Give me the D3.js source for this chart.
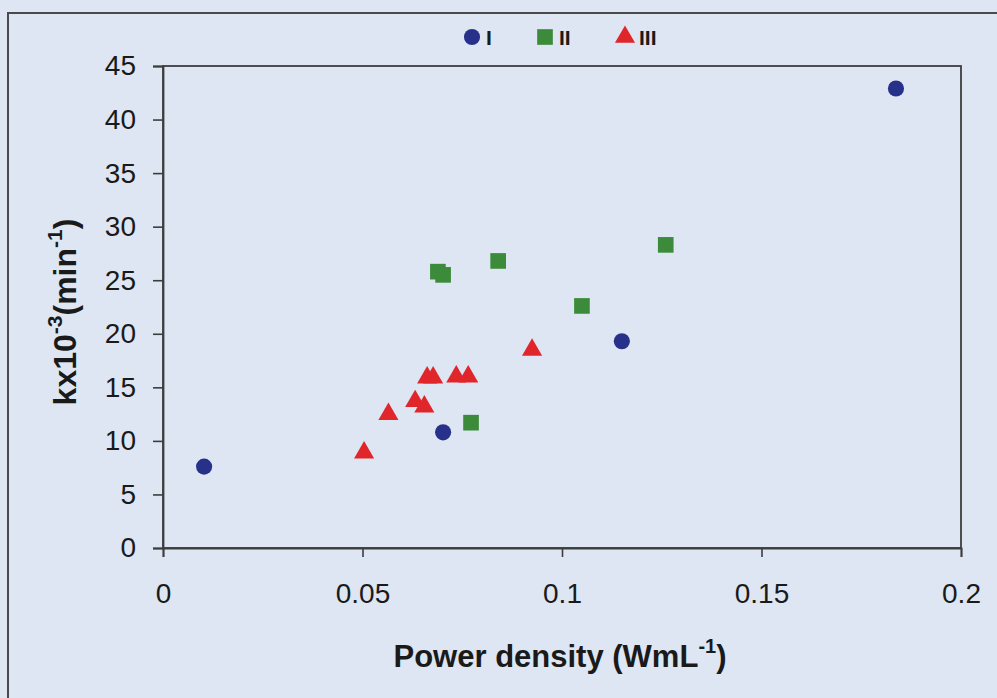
<!DOCTYPE html>
<html>
<head>
<meta charset="utf-8">
<script src="https://cdn.jsdelivr.net/npm/d3@7"></script>
<style>
  html, body { margin: 0; padding: 0; background: #dde6f2; }
  svg text { font-family: Arial, "Liberation Sans", sans-serif; fill: #1a1a1a; }
</style>
</head>
<body>
<div id="chart"></div>
<script>
// series values (x = power density W/mL, y = k x10^-3 min^-1)
const seriesNames = ["I", "II", "III"];
const xI   = [0.0103, 0.0702, 0.115, 0.1837];
const yI   = [7.6, 10.8, 19.3, 42.9];
const xII  = [0.0689, 0.0702, 0.084, 0.105, 0.126, 0.0772];
const yII  = [25.8, 25.5, 26.8, 22.6, 28.3, 11.7];
const xIII = [0.0504, 0.0565, 0.0632, 0.0655, 0.0662, 0.0677, 0.0735, 0.0765, 0.0925];
const yIII = [8.9, 12.5, 13.7, 13.2, 15.9, 15.9, 16.0, 16.0, 18.5];
const xTicks = [0, 0.05, 0.1, 0.15, 0.2];
const yTicks = [0, 5, 10, 15, 20, 25, 30, 35, 40, 45];

const W = 997, H = 698;
const colors = { I: "#28318a", II: "#3b8b3a", III: "#e1262b" };
const shapes = { I: d3.symbolCircle, II: d3.symbolSquare, III: d3.symbolTriangle };
const sizes = { I: 205, II: 245, III: 175 };

const svg = d3.select("#chart").append("svg")
  .attr("width", W)
  .attr("height", H);

svg.append("rect")
  .attr("width", W).attr("height", H)
  .attr("fill", "#dde6f2");

// outer chart frame (runs off the picture at right/bottom)
svg.append("rect")
  .attr("x", 8).attr("y", 13)
  .attr("width", 1200).attr("height", 900)
  .attr("fill", "none")
  .attr("stroke", "#4a4a4a")
  .attr("stroke-width", 2);

const x = d3.scaleLinear().domain([0, 0.2]).range([163, 961]);
const y = d3.scaleLinear().domain([0, 45]).range([548, 66]);

// plot area box
svg.append("rect")
  .attr("x", x(0)).attr("y", y(45))
  .attr("width", x(0.2) - x(0)).attr("height", y(0) - y(45))
  .attr("fill", "none")
  .attr("stroke", "#3d3d3d")
  .attr("stroke-width", 1.8);

const xAxis = svg.append("g")
  .attr("transform", "translate(0," + y(0) + ")")
  .call(d3.axisBottom(x).tickValues(xTicks).tickSize(9).tickPadding(26)
    .tickFormat(d => d3.format("")(d)));

const yAxis = svg.append("g")
  .attr("transform", "translate(" + x(0) + ",0)")
  .call(d3.axisLeft(y).tickValues(yTicks).tickSize(10).tickPadding(17));

[xAxis, yAxis].forEach(g => {
  g.select(".domain").attr("stroke", "#3d3d3d").attr("stroke-width", 1.8);
  g.selectAll(".tick line").attr("stroke", "#3d3d3d").attr("stroke-width", 1.6);
  g.selectAll(".tick text")
    .attr("font-size", 28)
    .attr("font-family", "Arial, 'Liberation Sans', sans-serif")
    .attr("fill", "#1a1a1a");
});

// x axis title
const xt = svg.append("text")
  .attr("x", 560).attr("y", 667)
  .attr("text-anchor", "middle")
  .attr("font-size", 31).attr("font-weight", "bold");
xt.append("tspan").text("Power density (WmL");
xt.append("tspan").attr("font-size", 20).attr("dy", -14).text("-1");
xt.append("tspan").attr("dy", 14).text(")");

// y axis title
const yt = svg.append("text")
  .attr("transform", "translate(76,312) rotate(-90)")
  .attr("text-anchor", "middle")
  .attr("font-size", 32).attr("font-weight", "bold");
yt.append("tspan").text("kx10");
yt.append("tspan").attr("font-size", 21).attr("dy", -14).text("-3");
yt.append("tspan").attr("dy", 14).text("(min");
yt.append("tspan").attr("font-size", 21).attr("dy", -14).text("-1");
yt.append("tspan").attr("dy", 14).text(")");

const series = [
  { name: "I", xs: xI, ys: yI },
  { name: "II", xs: xII, ys: yII },
  { name: "III", xs: xIII, ys: yIII }
];

series.forEach(s => {
  const pts = s.xs.map((v, i) => ({ x: v, y: s.ys[i] }));
  svg.append("g").selectAll("path")
    .data(pts)
    .join("path")
    .attr("d", d3.symbol().type(shapes[s.name]).size(sizes[s.name]))
    .attr("transform", d => "translate(" + x(d.x) + "," + y(d.y) + ")")
    .attr("fill", colors[s.name]);
});

// legend
const legendX = [472, 545, 625];
const legend = svg.append("g");
seriesNames.forEach((n, i) => {
  legend.append("path")
    .attr("d", d3.symbol().type(shapes[n]).size(sizes[n]))
    .attr("transform", "translate(" + legendX[i] + ",37)")
    .attr("fill", colors[n]);
  legend.append("text")
    .attr("x", legendX[i] + 14).attr("y", 45)
    .attr("font-size", 21).attr("font-weight", "bold")
    .text(n);
});
</script>
</body>
</html>
